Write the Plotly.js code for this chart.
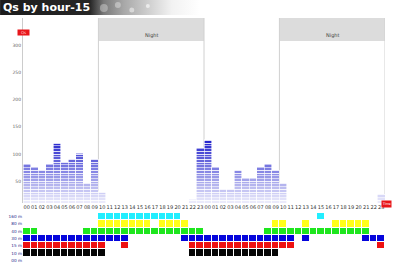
<!DOCTYPE html>
<html><head><meta charset="utf-8">
<script src="https://cdn.plot.ly/plotly-3.0.1.min.js"></script>
<style>html,body{margin:0;padding:0;background:#fff;}#chart{width:400px;height:265px;}</style>
</head><body><div id="chart"></div>
<script>
// ---------- data ----------
const hourLabels = ["00","01","02","03","04","05","06","07","08","09","10","11","12","13","14","15","16","17","18","19","20","21","22","23",
                    "00","01","02","03","04","05","06","07","08","09","10","11","12","13","14","15","16","17","18","19","20","21","22","23"];
const qsCounts = [82,77,71,82,121,86,91,101,46,91,31,0,0,0,0,0,0,0,0,0,0,0,17,112,
                  126,77,36,36,71,56,56,77,82,71,46,0,0,0,0,0,0,0,0,0,0,0,0,26];
const yTicks = [50,100,150,200,250,300];
const bandLabels = ["160 m","80 m","40 m","30 m","15 m","10 m","00 m"];
const band160 = [10,11,12,13,14,15,16,17,18,19,20,39];
const band80  = [10,11,12,13,14,15,16,18,19,20,21,33,34,37,41,42,43,44,45];
const band40  = [0,1,8,9,10,11,12,13,14,15,16,17,18,19,20,21,22,23,32,33,34,35,36,37,38,39,40,41,42,43,44,45];
const band30  = [0,1,2,3,4,5,6,7,8,9,10,11,12,13,21,22,23,24,25,26,27,28,29,30,31,32,33,34,35,37,45,46,47];
const band15  = [0,1,2,3,4,5,6,7,8,9,10,13,22,23,24,25,26,27,28,29,30,31,32,33,34,35,47];
const band10  = [0,1,2,3,4,5,6,7,8,9,10,22,23,24,25,26,27,28,29,30,31,32,33];
const band00  = [];
const nightStart = [10,34];
const nightEnd = [23,47];
const nightLabel = "Night";
const bandColors = ["#22eeff","#ffff1a","#1ee61e","#0505dc","#ee1111","#050505"];

// ---------- build ----------
const xIdx = hourLabels.map((_, i) => i);
const SEG = 5;
const nSeg = Math.ceil(Math.max(...qsCounts) / SEG);
const traces = [];
for (let k = 0; k < nSeg; k++) {
  const mid = k * SEG + SEG / 2;
  const t = Math.min(1, Math.max(0, (mid - 10) / 112));
  const r = Math.round(238 - 200 * t), b = Math.round(252 - 47 * t);
  traces.push({
    type: 'bar', x: xIdx,
    y: qsCounts.map(v => { const h = Math.min(SEG, v - k * SEG); return h > 0 ? h : null; }),
    marker: {color: `rgb(${r},${r},${b})`, line: {color: '#ffffff', width: 0.6}},
    hoverinfo: 'skip', xaxis: 'x', yaxis: 'y'
  });
}
const bands = [band160, band80, band40, band30, band15, band10, band00];
const z = bands.map((list, r) => xIdx.map(i => list.includes(i) ? r : null));
const cs = [];
bandColors.forEach((c, i) => {
  const lo = Math.max(0, (i - 0.5) / 5), hi = Math.min(1, (i + 0.5) / 5);
  cs.push([lo, c]); cs.push([hi, c]);
});
traces.push({
  type: 'heatmap', x: xIdx, y: bandLabels.map((_, r) => r), z: z,
  zmin: 0, zmax: 5, colorscale: cs, showscale: false, xgap: 1, ygap: 1,
  xaxis: 'x', yaxis: 'y2', hoverinfo: 'skip'
});

// geometry helpers (pixels -> paper)
const W = 400, H = 265, ML = 23, MR = 14.5, MT = 18, MB = 1;
const PW = W - ML - MR, PH = H - MT - MB;
const px = v => (v - ML) / PW;
const py = v => (H - MB - v) / PH;

const shapes = [], annotations = [];
nightStart.forEach((s, i) => {
  const x0 = s - 0.5, x1 = nightEnd[i] + 0.5;
  shapes.push({type: 'rect', xref: 'x', yref: 'paper', x0: x0, x1: x1, y0: py(41), y1: py(18),
               fillcolor: '#dcdcdc', line: {width: 0}, layer: 'below'});
  [x0, x1].forEach(xx => shapes.push({type: 'line', xref: 'x', yref: 'paper', x0: xx, x1: xx,
               y0: py(203), y1: py(18), line: {color: '#d0d0d0', width: 1}, layer: 'below'}));
  annotations.push({xref: 'x', yref: 'paper', x: (x0 + x1) / 2, y: py(29.5), text: nightLabel,
               showarrow: false, font: {size: 5, color: '#444'}});
});
annotations.push({xref: 'paper', yref: 'paper', x: px(16.5), y: py(28.5), text: 'Qs', showarrow: false,
  bgcolor: '#e8161b', width: 10, height: 4, borderpad: 0.5, font: {size: 4, color: '#ffd0d0'}});
annotations.push({xref: 'paper', yref: 'paper', x: px(392.5), y: py(207.5), text: 'Time', showarrow: false,
  bgcolor: '#e8161b', width: 8, height: 5, borderpad: 0.5, font: {size: 3.5, color: '#ffffff'}});

const svg = "<svg xmlns='http://www.w3.org/2000/svg' width='200' height='15'><defs><linearGradient id='g' x1='0' x2='1' y1='0' y2='0'>" +
  "<stop offset='0' stop-color='#1c1c1c'/><stop offset='0.45' stop-color='#262626'/><stop offset='0.52' stop-color='#7a7a7a'/>" +
  "<stop offset='0.62' stop-color='#a8a8a8'/><stop offset='0.76' stop-color='#d4d4d4'/><stop offset='0.86' stop-color='#f2f2f2'/><stop offset='1' stop-color='#ffffff'/>" +
  "</linearGradient></defs><rect width='200' height='15' fill='url(#g)'/>" +
  "<circle cx='104' cy='8' r='4' fill='#cfcfcf' opacity='0.5'/><circle cx='118' cy='5' r='3' fill='#e0e0e0' opacity='0.5'/>" +
  "<circle cx='132' cy='10' r='2.5' fill='#f0f0f0' opacity='0.6'/><circle cx='148' cy='6' r='2' fill='#ffffff' opacity='0.6'/></svg>";

const layout = {
  width: W, height: H, margin: {l: ML, r: MR, t: MT, b: MB, pad: 0},
  paper_bgcolor: '#ffffff', plot_bgcolor: 'rgba(0,0,0,0)',
  barmode: 'stack', bargap: 0, showlegend: false,
  font: {family: 'DejaVu Sans, Verdana, sans-serif'},
  title: {text: 'Qs by hour-15', x: 3 / W, xanchor: 'left', y: 1 - 7.5 / H, yanchor: 'middle',
          font: {size: 11, color: '#ffffff', weight: 'bold', family: 'DejaVu Sans, Verdana, sans-serif'}},
  xaxis: {range: [-0.5, 47.5], tickvals: xIdx, ticktext: hourLabels, tickangle: 0,
          tickfont: {size: 5, color: '#333'}, showgrid: false, zeroline: false, showline: false,
          ticks: '', anchor: 'y', fixedrange: true},
  yaxis: {domain: [py(203), 1], range: [10, 350], tickvals: yTicks, tickfont: {size: 4.5, color: '#666'},
          showline: true, linecolor: '#cccccc', linewidth: 1, showgrid: false, zeroline: false, ticks: ''},
  yaxis2: {domain: [0, py(213)], range: [6.5, -0.5], tickvals: bandLabels.map((_, r) => r), ticktext: bandLabels,
           tickfont: {size: 4.2, color: '#2a2a8a'}, showgrid: false, zeroline: false, showline: false, ticks: '', anchor: 'x'},
  shapes: shapes, annotations: annotations,
  images: [{source: 'data:image/svg+xml;charset=utf-8,' + encodeURIComponent(svg), xref: 'paper', yref: 'paper',
            x: px(0), y: py(0), sizex: 200 / PW, sizey: 15 / PH, xanchor: 'left', yanchor: 'top',
            sizing: 'stretch', layer: 'below'}]
};
Plotly.newPlot('chart', traces, layout, {staticPlot: true, displayModeBar: false});
</script>
</body></html>
